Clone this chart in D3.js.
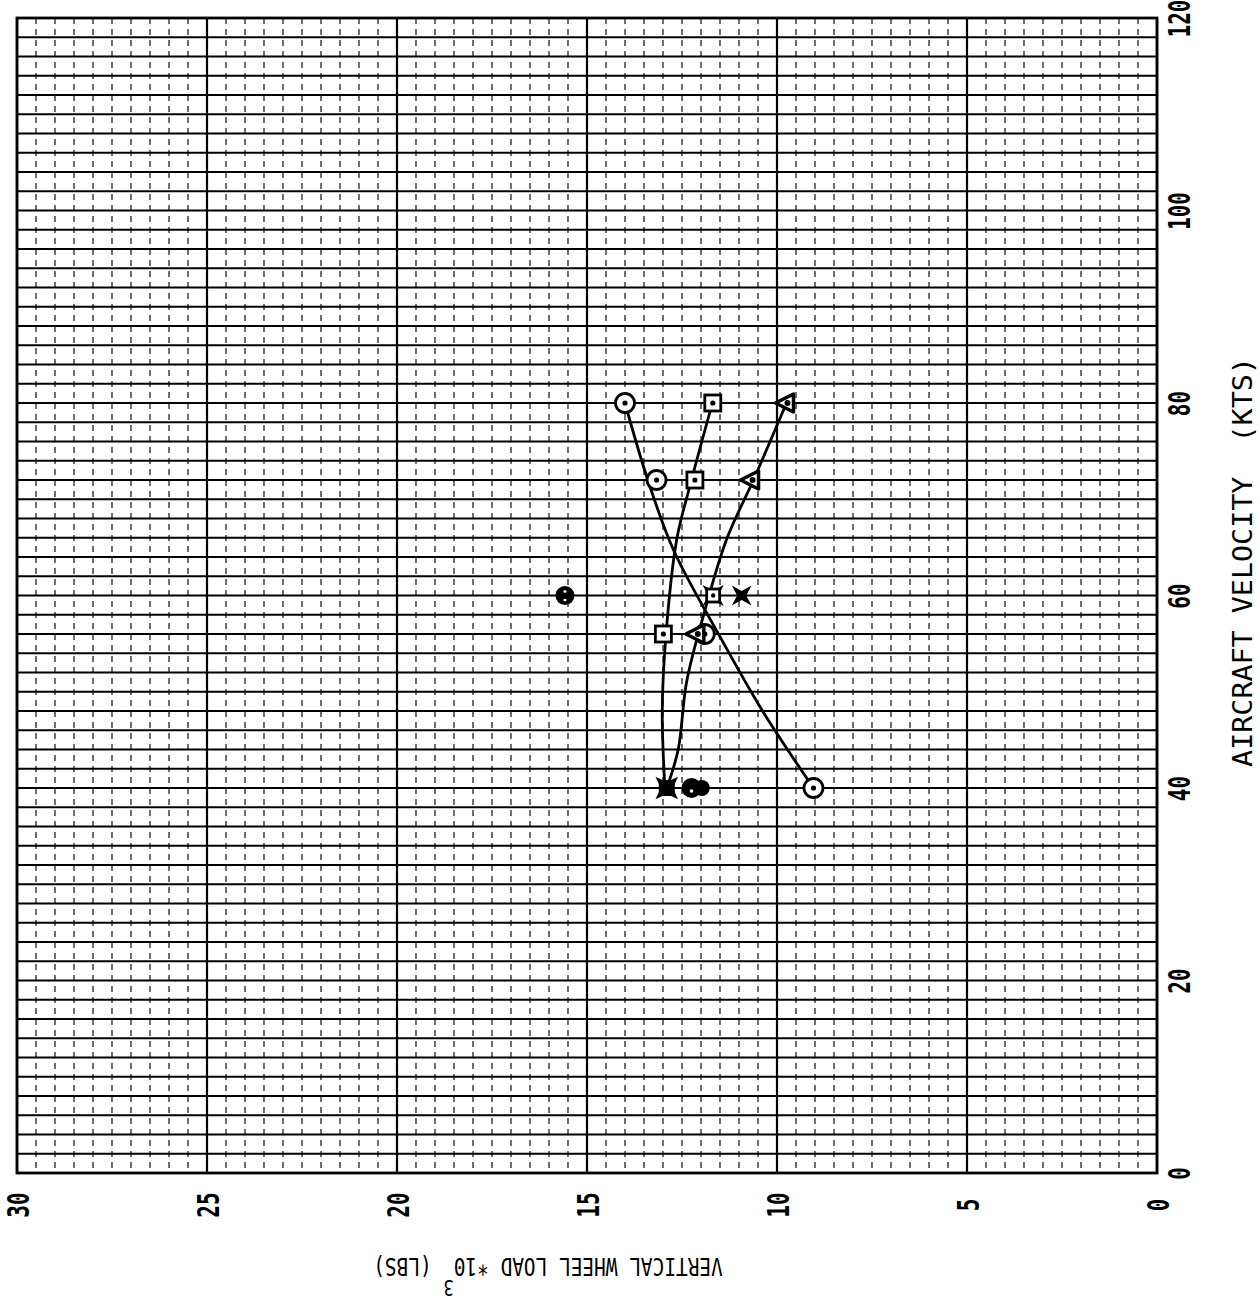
<!DOCTYPE html>
<html><head><meta charset="utf-8">
<script src="https://cdn.jsdelivr.net/npm/d3@7"></script>
<style>body{margin:0;background:#fff} svg{display:block}</style>
</head><body>
<script>
// ---- data ----
const loadTicks = [30, 25, 20, 15, 10, 5, 0];
const velocityTicks = [0, 20, 40, 60, 80, 100, 120];

// circle-with-dot series
const circleVel  = [80, 72, 56, 40];
const circleLoad = [14.0, 13.17, 11.9, 9.04];
const circleFitVel  = [80, 72, 64.7, 56, 48, 40];
const circleFitLoad = [14.0, 13.4, 12.72, 11.54, 10.38, 9.04];

// square-with-dot series
const squareVel  = [80, 72, 56];
const squareLoad = [11.69, 12.16, 12.99];
const squareFitVel  = [80, 72, 65.8, 56, 48, 40];
const squareFitLoad = [11.7, 12.25, 12.64, 12.92, 13.02, 12.95];

// triangle series
const triVel  = [80, 72, 56];
const triLoad = [9.75, 10.67, 12.11];
const triFitVel  = [80, 72, 65.8, 58, 51, 44, 40];
const triFitLoad = [9.75, 10.62, 11.33, 11.93, 12.38, 12.6, 12.9];

// isolated points
const solidVel  = [60];
const solidLoad = [15.58];
const starVel  = [60];
const starLoad = [10.93];
const boxStarVel  = [60];
const boxStarLoad = [11.68];
const heavyVel  = [40];
const heavyLoad = [12.9];
const blobVel  = [40, 40];
const blobLoad = [12.25, 11.98];

// ---- chart ----
const W = 1260, H = 1310;
const svg = d3.select("body").append("svg").attr("width", W).attr("height", H);
const x = d3.scaleLinear().domain([30, 0]).range([17, 1157]);
const y = d3.scaleLinear().domain([0, 120]).range([1173, 18]);

const grid = svg.append("g");
grid.selectAll("line.vmin").data(d3.range(0, 30.01, 0.5).filter(v => Math.abs(v % 5) > 0.01))
  .join("line").attr("x1", d => x(d)).attr("x2", d => x(d)).attr("y1", y(120)).attr("y2", y(0))
  .attr("stroke", "#222").attr("stroke-width", 1.3).attr("stroke-dasharray", "6,5");
grid.selectAll("line.h").data(d3.range(0, 121, 2))
  .join("line").attr("x1", x(30)).attr("x2", x(0)).attr("y1", d => y(d)).attr("y2", d => y(d))
  .attr("stroke", "#000").attr("stroke-width", 2);
grid.selectAll("line.vmaj").data(d3.range(0, 30.01, 5))
  .join("line").attr("x1", d => x(d)).attr("x2", d => x(d)).attr("y1", y(120)).attr("y2", y(0))
  .attr("stroke", "#000").attr("stroke-width", 2.2);
svg.append("rect").attr("x", x(30)).attr("y", y(120)).attr("width", x(0) - x(30)).attr("height", y(0) - y(120))
  .attr("fill", "none").attr("stroke", "#000").attr("stroke-width", 2.8);

// axes
const digitFont = "'DejaVu Sans Mono', monospace";
const bottomAxis = svg.append("g").attr("transform", `translate(0,${y(0)})`)
  .call(d3.axisBottom(x).tickValues(loadTicks).tickSize(0).tickFormat(d3.format("d")));
bottomAxis.select(".domain").remove();
bottomAxis.selectAll("text").attr("x", 0).attr("y", 0).attr("dy", 0)
  .attr("text-anchor", "middle").attr("font-family", digitFont).attr("font-size", 30)
  .attr("font-weight", "bold").attr("fill", "#000")
  .attr("transform", "translate(11,32) rotate(-90) scale(0.7,1)");

const rightAxis = svg.append("g").attr("transform", `translate(${x(0)},0)`)
  .call(d3.axisRight(y).tickValues(velocityTicks).tickSize(0).tickFormat(d3.format("d")));
rightAxis.select(".domain").remove();
rightAxis.selectAll("text").attr("x", 0).attr("y", 0).attr("dy", 0)
  .attr("text-anchor", "middle").attr("font-family", digitFont).attr("font-size", 30)
  .attr("font-weight", "bold").attr("fill", "#000")
  .attr("transform", "translate(33,0) rotate(-90) scale(0.7,1)");

// titles
function fit(t, target, pre) {
  const len = t.node().getComputedTextLength();
  t.attr("transform", pre + ` scale(${target / len},1)`);
}
const rt = svg.append("text").attr("text-anchor", "middle").attr("font-family", digitFont)
  .attr("font-size", 26).attr("fill", "#000").style("white-space", "pre")
  .text("AIRCRAFT VELOCITY  (KTS)");
fit(rt, 410, "translate(1252,562) rotate(-90)");

const bt = svg.append("text").attr("text-anchor", "middle").attr("font-family", digitFont)
  .attr("font-size", 25).attr("fill", "#000").style("white-space", "pre");
bt.append("tspan").text("VERTICAL WHEEL LOAD *10");
bt.append("tspan").attr("dy", -22).attr("font-size", 22).text("3");
bt.append("tspan").attr("dy", 22).text(" (LBS)");
fit(bt, 350, "translate(548,1258) rotate(180)");

// fitted curves
const line = d3.line().x(d => x(d[0])).y(d => y(d[1])).curve(d3.curveCatmullRom.alpha(0.5));
const curves = [
  d3.zip(circleFitLoad, circleFitVel),
  d3.zip(squareFitLoad, squareFitVel),
  d3.zip(triFitLoad, triFitVel)
];
svg.append("g").selectAll("path").data(curves).join("path")
  .attr("d", line).attr("fill", "none").attr("stroke", "#000").attr("stroke-width", 2.8);

// markers
const mk = svg.append("g");
function at(loads, vels) { return d3.zip(loads, vels); }
function star(R, r) {
  const pts = [];
  for (let i = 0; i < 8; i++) {
    const a = Math.PI / 4 + i * Math.PI / 4;
    const rr = i % 2 === 0 ? R : r;
    pts.push([rr * Math.cos(a), rr * Math.sin(a)]);
  }
  return "M" + pts.map(p => p.join(",")).join("L") + "Z";
}
const pos = d => `translate(${x(d[0])},${y(d[1])})`;

const cg = mk.selectAll("g.c").data(at(circleLoad, circleVel)).join("g").attr("transform", pos);
cg.append("circle").attr("r", 9.5).attr("fill", "#fff").attr("stroke", "#000").attr("stroke-width", 2.8);
cg.append("circle").attr("r", 2.6).attr("fill", "#000");

const sg = mk.selectAll("g.s").data(at(squareLoad, squareVel)).join("g").attr("transform", pos);
sg.append("rect").attr("x", -8).attr("y", -8).attr("width", 16).attr("height", 16)
  .attr("fill", "#fff").attr("stroke", "#000").attr("stroke-width", 2.8);
sg.append("circle").attr("r", 2.6).attr("fill", "#000");

const tg = mk.selectAll("g.t").data(at(triLoad, triVel)).join("g").attr("transform", pos);
tg.append("path").attr("d", "M-11,0L7,-9L7,9Z").attr("fill", "#fff").attr("stroke", "#000")
  .attr("stroke-width", 3.5).attr("stroke-linejoin", "round");
tg.append("circle").attr("cx", 1).attr("r", 3).attr("fill", "#000");

const fg = mk.selectAll("g.f").data(at(solidLoad, solidVel)).join("g").attr("transform", pos);
fg.append("circle").attr("r", 9.5).attr("fill", "#000");
fg.append("ellipse").attr("cy", -4).attr("rx", 1.6).attr("ry", 1.2).attr("fill", "#fff");
fg.append("ellipse").attr("cy", 4.5).attr("rx", 1.6).attr("ry", 1.2).attr("fill", "#fff");

mk.selectAll("path.st").data(at(starLoad, starVel)).join("path")
  .attr("transform", pos).attr("d", star(14, 4.5)).attr("fill", "#000");

const bs = mk.selectAll("g.bs").data(at(boxStarLoad, boxStarVel)).join("g").attr("transform", pos);
bs.append("path").attr("d", star(15, 5)).attr("fill", "#000");
bs.append("rect").attr("x", -6.5).attr("y", -6.5).attr("width", 13).attr("height", 13)
  .attr("fill", "#fff").attr("stroke", "#000").attr("stroke-width", 2.8);
bs.append("circle").attr("r", 2.2).attr("fill", "#000");

const hs = mk.selectAll("g.hs").data(at(heavyLoad, heavyVel)).join("g").attr("transform", pos);
hs.append("path").attr("d", star(16, 6)).attr("fill", "#000");
hs.append("rect").attr("x", -8).attr("y", -8).attr("width", 16).attr("height", 16).attr("fill", "#000");

const bg = mk.selectAll("g.b").data(at(blobLoad, blobVel)).join("g").attr("transform", pos);
bg.append("circle").attr("r", (d, i) => i === 0 ? 10 : 8).attr("fill", "#000");
bg.filter((d, i) => i === 0).append("circle").attr("cy", 3).attr("r", 1.8).attr("fill", "#fff");
</script>
</body></html>
